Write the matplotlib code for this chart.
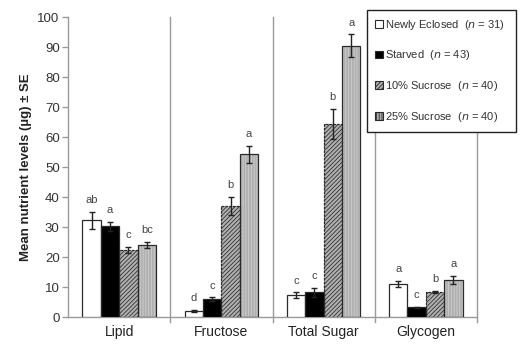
import numpy as np
import matplotlib
matplotlib.use("Agg")
import matplotlib.pyplot as plt

plt.rcParams['font.family'] = ['Liberation Sans', 'DejaVu Sans']
plt.rcParams['hatch.linewidth'] = 0.6

nutrients = ["Lipid", "Fructose", "Total Sugar", "Glycogen"]
treatments = ["Newly Eclosed", "Starved", "10% Sucrose", "25% Sucrose"]
n_flies = [31, 43, 40, 40]

# mean levels (µg) per treatment, one value per nutrient
newly_eclosed = [32.3, 2.0, 7.2, 11.0]
starved = [30.3, 6.0, 8.2, 3.2]
sucrose_10 = [22.3, 37.0, 64.5, 8.4]
sucrose_25 = [24.0, 54.2, 90.5, 12.4]

# standard errors
se_newly = [2.8, 0.4, 1.0, 1.0]
se_starved = [1.5, 0.6, 1.6, 0.3]
se_10 = [1.0, 3.0, 5.0, 0.4]
se_25 = [1.0, 2.8, 3.8, 1.3]

# significance letters
letters_newly = ["ab", "d", "c", "a"]
letters_starved = ["a", "c", "c", "c"]
letters_10 = ["c", "b", "b", "b"]
letters_25 = ["bc", "a", "a", "a"]

means = [newly_eclosed, starved, sucrose_10, sucrose_25]
errors = [se_newly, se_starved, se_10, se_25]
letters = [letters_newly, letters_starved, letters_10, letters_25]

styles = [
    dict(face="white", hatch=None, hcol=None, ls="-"),
    dict(face="black", hatch=None, hcol=None, ls="-"),
    dict(face="#b0b0b0", hatch="////////", hcol="#333333", ls=(0, (2, 1))),
    dict(face="#b0b0b0", hatch="||||||", hcol="#cfcfcf", ls="-"),
]

fig = plt.figure(figsize=(5.2, 3.51), dpi=100)
ax = fig.add_axes([68 / 520, 34 / 351, 409 / 520, 300 / 351])

x = np.arange(len(nutrients)) + 0.5
w = 0.18
offsets = np.array([-1.5, -0.5, 0.5, 1.5]) * w

for i in range(4):
    st = styles[i]
    pos = x + offsets[i]
    if st["hatch"]:
        ax.bar(pos, means[i], w, color=st["face"], edgecolor=st["hcol"],
               hatch=st["hatch"], linewidth=0, zorder=2)
        ax.bar(pos, means[i], w, fill=False, edgecolor="#2a2a2a",
               linewidth=0.9, linestyle=st["ls"], zorder=3)
    else:
        ax.bar(pos, means[i], w, color=st["face"], edgecolor="#2a2a2a",
               linewidth=0.9, zorder=3)
    ax.errorbar(pos, means[i], yerr=errors[i], fmt="none", ecolor="#222222",
                elinewidth=1, capsize=2.2, capthick=1, zorder=4)
    for xp, m, e, lab in zip(pos, means[i], errors[i], letters[i]):
        ax.text(xp, m + e + 2.2, lab, ha="center", va="bottom",
                fontsize=8, color="#444444")

# legend swatches with the same fill and hatch as the bars
swatches = []
for st in styles:
    swatches.append(plt.Rectangle((0, 0), 1, 1, facecolor=st["face"],
                                  edgecolor="#2a2a2a", hatch=st["hatch"],
                                  linewidth=0.8))

# group separators
for sep in range(1, 5):
    ax.axvline(sep, ymin=-0.015, ymax=1, color="#9a9a9a", lw=1, clip_on=False, zorder=1)

ax.set_xlim(0, 4)
ax.set_ylim(0, 100)
ax.set_yticks(np.arange(0, 101, 10))
ax.set_xticks(x)
ax.set_xticklabels(nutrients, fontsize=10, color="#222222")
ax.tick_params(axis="x", length=0, pad=6)
ax.tick_params(axis="y", labelsize=9.5, colors="#9a9a9a", labelcolor="#333333",
               length=4, width=1, pad=2)
for side in ["top", "right"]:
    ax.spines[side].set_visible(False)
for side in ["left", "bottom"]:
    ax.spines[side].set_color("#9a9a9a")
    ax.spines[side].set_linewidth(1)

ax.set_ylabel("Mean nutrient levels (µg) ± SE", fontsize=9.5, fontweight="bold",
              color="#222222", labelpad=4)

labels = [f"{t}  ($n$ = {n})" for t, n in zip(treatments, n_flies)]
leg = fig.legend(swatches, labels, loc="upper left",
                 bbox_to_anchor=(367 / 520, 1 - 133 / 351, 149 / 520, 123 / 351),
                 mode="expand", fontsize=8, frameon=True, fancybox=False,
                 edgecolor="#222222", handlelength=0.7, handleheight=0.7,
                 handletextpad=0.2, labelspacing=1.5, borderpad=0.7,
                 borderaxespad=0, framealpha=1)
leg.get_frame().set_linewidth(1)
leg.set_zorder(5)
for t in leg.get_texts():
    t.set_color("#333333")

fig.savefig("out.png", dpi=100)
